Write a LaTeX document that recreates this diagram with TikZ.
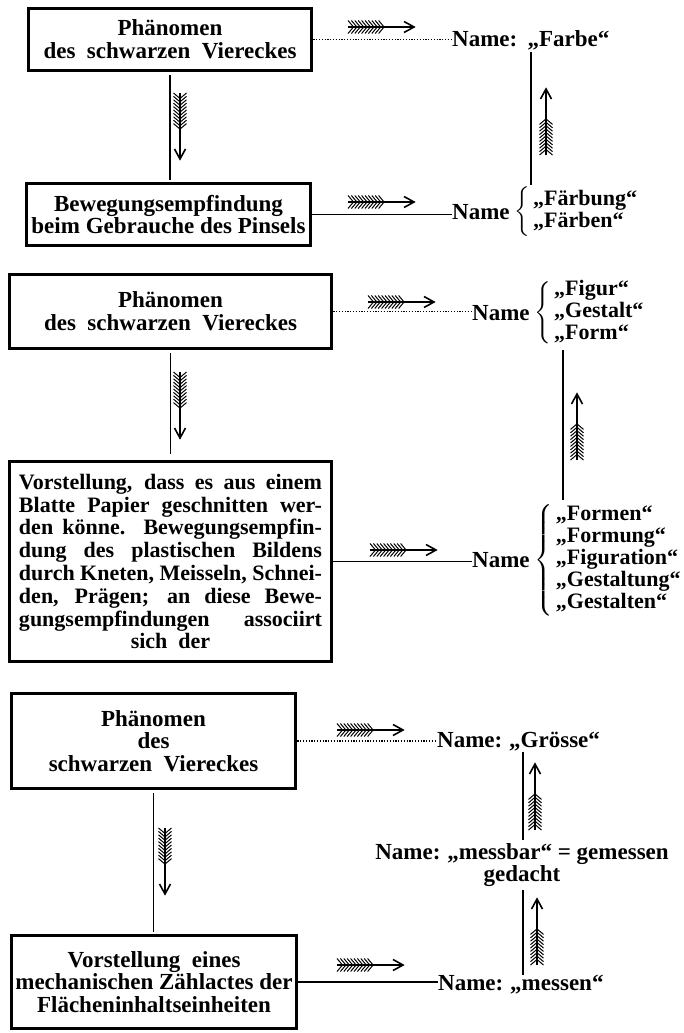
\documentclass[tikz,border=0pt]{standalone}
\usepackage{amsmath}
\usepackage{fontspec}
\setmainfont{Liberation Serif}
\usetikzlibrary{calc}
\begin{document}
\begin{tikzpicture}[x=1pt,y=-1pt,
  every node/.style={font=\bfseries\fontsize{23}{22.8}\selectfont, inner sep=0pt},
  textbox/.style={draw, line width=3.6pt, align=center},
  nametag/.style={anchor=west},
  namelist/.style={anchor=west, font=\bfseries\fontsize{22}{22}\selectfont},
  solidlink/.style={line width=1.3pt},
  dottedlink/.style={line width=1.3pt, dash pattern=on 1.2pt off 1.6pt},
  pics/fletch/.style={code={
    % shaft and open head, pointing along +x from the tail at the origin
    \draw[line width=1.6pt] (0pt,0pt) -- (66pt,0pt);
    \draw[line width=1.6pt, line join=miter] (56pt,5.5pt) -- (66pt,0pt) -- (56pt,-5.5pt);
    % fletching: stacked chevrons at the tail
    \foreach \k in {0,...,9}{
      \draw[line width=1pt] ({5.5pt+\k*3.4pt},0pt) -- ++(-5.5pt,6.5pt)
                            ({5.5pt+\k*3.4pt},0pt) -- ++(-5.5pt,-6.5pt);
    }
  }}
]
\useasboundingbox[fill=white] (0,0) rectangle (683,1033);

% ---------- first group: Farbe ----------
\node[textbox, minimum width=283pt, minimum height=62pt] (b1) at (170,39.5)
  {Phänomen\\des\ \ schwarzen\ \ Viereckes};
\node[textbox, minimum width=284pt, minimum height=62pt] (b2) at (168.5,214.5)
  {Bewegungsempfindung\\beim Gebrauche des Pinsels};
\node[nametag] (n1) at (452,40) {Name:\hspace{0.45em}„Farbe“};
\node[nametag] (n2a) at (452,212) {Name};
\node[namelist] (n2b) at ([xshift=4pt]n2a.east)
  {$\left\{\,\begin{tabular}{@{}l@{}}„Färbung“\\„Färben“\end{tabular}\right.$};
\coordinate (c1) at (531,0);

\draw[dottedlink] (b1.east) -- (b1.east -| n1.west);
\draw[solidlink] (b2.east) -- (b2.east -| n2a.west);
\draw[solidlink, shorten <=3pt, shorten >=2pt] (b1.south) -- (b1.south |- b2.north);
\draw[solidlink, shorten <=2pt, shorten >=2pt] (n1.south -| c1) -- (n2b.north -| c1);

\pic at (348,27) {fletch};
\pic at (348,202) {fletch};
\pic[rotate=-90] at (180,93) {fletch};
\pic[rotate=90] at (546,155) {fletch};

% ---------- second group: Figur / Form ----------
\node[textbox, minimum width=322pt, minimum height=74pt] (b3) at (170.5,311.5)
  {Phänomen\\des\ \ schwarzen\ \ Viereckes};
\node[textbox, minimum width=322pt, minimum height=200pt,
      font=\bfseries\fontsize{22}{22.8}\selectfont] (b4) at (170.5,561.5)
  {\makebox[303pt][s]{Vorstellung, dass es aus einem}\\
   \makebox[303pt][s]{Blatte Papier geschnitten wer-}\\
   \makebox[303pt][s]{den könne. Bewegungsempfin-}\\
   \makebox[303pt][s]{dung des plastischen Bildens}\\
   \makebox[303pt][s]{durch\hspace{0.08em plus 1em}Kneten,\hspace{0.08em plus 1em}Meisseln,\hspace{0.08em plus 1em}Schnei-}\\
   \makebox[303pt][s]{den, Prägen; an diese Bewe-}\\
   \makebox[303pt][s]{gungsempfindungen associirt}\\
   sich\ \ der};
\node[nametag] (n3a) at (472,313) {Name};
\node[namelist] (n3b) at ([xshift=4pt]n3a.east)
  {$\left\{\,\begin{tabular}{@{}l@{}}„Figur“\\„Gestalt“\\„Form“\end{tabular}\right.$};
\node[nametag] (n4a) at (472,560) {Name};
\node[namelist] (n4b) at ([xshift=4pt]n4a.east)
  {$\left\{\,\begin{tabular}{@{}l@{}}„Formen“\\„Formung“\\„Figuration“\\„Gestaltung“\\„Gestalten“\end{tabular}\right.$};
\coordinate (c2) at (563,0);

\draw[dottedlink] (b3.east) -- (b3.east -| n3a.west);
\draw[solidlink] (b4.east) -- (b4.east -| n4a.west);
\draw[solidlink, shorten <=3pt, shorten >=6pt] (b3.south) -- (b3.south |- b4.north);
\draw[solidlink, shorten <=4pt, shorten >=4pt] (n3b.south -| c2) -- (n4b.north -| c2);

\pic at (368,302) {fletch};
\pic at (370,550) {fletch};
\pic[rotate=-90] at (180,372) {fletch};
\pic[rotate=90] at (577,460) {fletch};

% ---------- third group: Grösse / messen ----------
\node[textbox, minimum width=284pt, minimum height=95pt] (b5) at (153.5,741)
  {Phänomen\\des\\schwarzen\ \ Viereckes};
\node[textbox, minimum width=285pt, minimum height=93pt] (b6) at (154,982)
  {Vorstellung\ \ eines\\mechanischen Zählactes der\\Flächeninhaltseinheiten};
\node[nametag] (n5) at (437,742) {Name:\hspace{0.3em}„Grösse“};
\node[align=center, inner sep=3pt] (n6) at (522,865)
  {Name:\hspace{0.3em}„messbar“ = gemessen\\gedacht};
\node[nametag] (n7) at (438,985) {Name:\hspace{0.3em}„messen“};
\coordinate (c3) at (523,0);

\draw[dottedlink] (b5.east) -- (b5.east -| n5.west);
\draw[solidlink] (b6.east) -- (b6.east -| n7.west);
\draw[solidlink, shorten <=3pt, shorten >=2pt] (b5.south) -- (b5.south |- b6.north);
\draw[solidlink] (n5.south -| c3) -- (n6.north -| c3);
\draw[solidlink] (n6.south -| c3) -- (n7.north -| c3);

\pic at (337,730) {fletch};
\pic at (337,965) {fletch};
\pic[rotate=-90] at (165,828) {fletch};
\pic[rotate=90] at (535,830) {fletch};
\pic[rotate=90] at (537,965) {fletch};
\end{tikzpicture}
\end{document}
